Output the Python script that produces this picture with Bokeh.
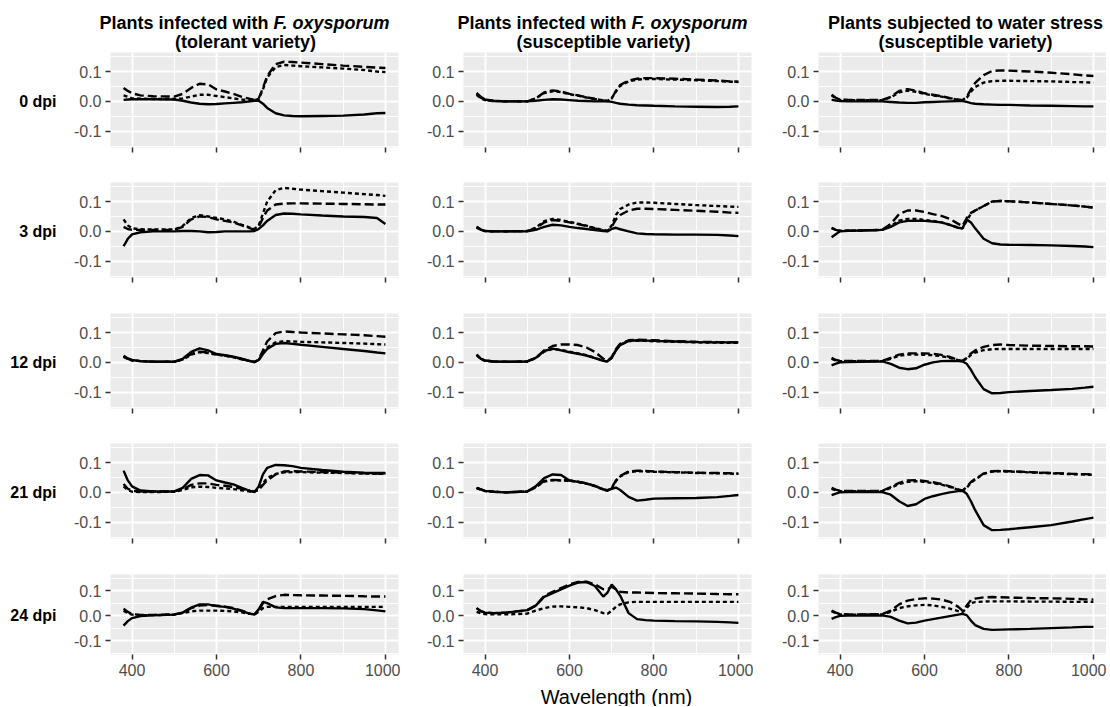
from bokeh.plotting import figure
from bokeh.layouts import column, row
from bokeh.models import FixedTicker, NumeralTickFormatter, CustomJSTickFormatter
from bokeh.core.properties import value
from bokeh.embed import file_html
from bokeh.resources import INLINE

# ---------------- data ----------------
WL = [380, 390, 400, 420, 450, 500, 520, 540, 560, 580, 600, 620, 640, 660, 680, 690,
      700, 710, 720, 740, 760, 780, 800, 850, 900, 950, 980, 1000]

# tolerant variety, F. oxysporum
tol0_solid = [.005, .006, .007, .007, .007, .006, .002, -.004, -.008, -.010, -.009, -.007, -.005, -.003, .000, .002, .002, -.008, -.022, -.040, -.047, -.049, -.050, -.049, -.048, -.044, -.040, -.039]
tol0_dash = [.045, .035, .027, .020, .017, .016, .025, .045, .059, .057, .040, .033, .025, .015, .008, .005, .010, .045, .085, .125, .133, .132, .130, .125, .120, .116, .113, .112]
tol0_dot = [.020, .015, .010, .009, .008, .008, .010, .016, .022, .022, .018, .014, .010, .006, .004, .004, .008, .040, .080, .115, .122, .120, .118, .114, .110, .105, .100, .098]
tol3_solid = [-.050, -.025, -.010, -.003, .000, .000, .001, .001, .000, -.003, -.002, .000, .000, .000, .000, .001, .008, .020, .035, .055, .060, .059, .057, .053, .050, .048, .045, .025]
tol3_dash = [.015, .008, .005, .005, .005, .005, .015, .040, .050, .048, .040, .035, .030, .020, .010, .006, .015, .045, .070, .090, .093, .094, .094, .093, .092, .091, .090, .090]
tol3_dot = [.040, .020, .010, .007, .006, .006, .018, .045, .054, .050, .045, .040, .033, .022, .012, .008, .020, .060, .100, .138, .146, .143, .140, .135, .130, .125, .122, .119]
tol12_solid = [.022, .013, .008, .004, .002, .002, .012, .035, .047, .040, .028, .024, .019, .012, .004, .001, .008, .028, .045, .062, .065, .062, .059, .052, .045, .038, .033, .030]
tol12_dash = [.020, .012, .007, .004, .002, .002, .010, .028, .036, .033, .027, .023, .018, .011, .004, .001, .010, .040, .070, .098, .104, .102, .100, .097, .094, .091, .088, .086]
tol12_dot = [.018, .011, .006, .004, .002, .002, .009, .026, .034, .031, .026, .022, .017, .010, .004, .001, .008, .030, .050, .067, .071, .070, .069, .067, .065, .063, .061, .060]
tol21_solid = [.073, .040, .020, .006, .003, .003, .015, .045, .058, .057, .040, .033, .027, .015, .004, .001, .020, .060, .082, .092, .091, .088, .082, .075, .069, .066, .065, .065]
tol21_dash = [.028, .012, .005, .003, .003, .003, .010, .025, .030, .030, .025, .022, .018, .012, .005, .003, .008, .025, .040, .060, .070, .071, .070, .068, .066, .064, .063, .062]
tol21_dot = [.020, .008, .002, .001, .001, .002, .008, .017, .019, .018, .015, .013, .011, .007, .003, .002, .010, .030, .048, .062, .067, .068, .068, .066, .065, .063, .062, .062]
tol24_solid = [-.040, -.022, -.010, -.002, .001, .004, .012, .032, .045, .045, .038, .035, .028, .018, .007, .005, .025, .055, .050, .033, .030, .030, .030, .030, .029, .026, .021, .017]
tol24_dash = [.028, .015, .006, .003, .003, .005, .012, .030, .040, .042, .040, .036, .030, .020, .008, .005, .020, .050, .065, .078, .083, .082, .081, .080, .079, .077, .076, .076]
tol24_dot = [.020, .010, .004, .002, .002, .004, .010, .017, .020, .020, .020, .019, .017, .013, .007, .005, .015, .030, .035, .035, .035, .035, .035, .035, .035, .035, .035, .035]

# susceptible variety, F. oxysporum
sus0_solid = [.028, .015, .006, .002, .000, .000, .002, .005, .007, .006, .004, .002, .001, .000, .000, .000, -.002, -.005, -.008, -.011, -.013, -.014, -.015, -.017, -.018, -.019, -.018, -.017]
sus0_dash = [.025, .012, .005, .001, .000, .000, .010, .030, .037, .033, .025, .020, .014, .008, .003, .001, .010, .035, .055, .070, .076, .078, .078, .076, .073, .070, .067, .066]
sus0_dot = [.022, .010, .004, .001, .000, .000, .010, .028, .034, .031, .024, .019, .013, .008, .003, .001, .010, .033, .052, .067, .073, .075, .075, .073, .071, .068, .066, .065]
sus3_solid = [.015, .006, .001, .000, .000, .000, .005, .015, .022, .020, .015, .011, .008, .004, .001, .000, .008, .012, .007, .000, -.007, -.009, -.010, -.011, -.011, -.012, -.014, -.016]
sus3_dash = [.015, .006, .001, .000, .000, .001, .010, .030, .038, .035, .030, .024, .018, .010, .003, .001, .015, .040, .055, .070, .076, .076, .075, .072, .069, .066, .063, .062]
sus3_dot = [.012, .005, .001, .000, .000, .001, .012, .034, .042, .038, .032, .026, .019, .011, .004, .002, .020, .055, .075, .090, .097, .097, .096, .092, .088, .085, .083, .082]
sus12_solid = [.026, .012, .006, .003, .002, .003, .015, .038, .046, .040, .034, .029, .023, .014, .005, .003, .015, .040, .058, .072, .074, .073, .072, .070, .068, .067, .067, .067]
sus12_dash = [.026, .012, .006, .003, .002, .003, .015, .040, .055, .060, .060, .058, .050, .035, .012, .005, .018, .045, .062, .074, .076, .075, .074, .071, .069, .068, .068, .067]
sus12_dot = [.024, .011, .005, .003, .002, .003, .014, .036, .045, .042, .036, .030, .024, .015, .006, .003, .015, .042, .060, .071, .073, .072, .071, .069, .067, .066, .066, .066]
sus21_solid = [.015, .010, .005, .002, .000, .003, .020, .048, .060, .058, .040, .035, .030, .022, .010, .007, .012, .016, .008, -.015, -.028, -.025, -.021, -.020, -.019, -.016, -.012, -.009]
sus21_dash = [.015, .010, .005, .002, .000, .003, .018, .038, .042, .041, .040, .036, .030, .022, .010, .006, .015, .040, .055, .070, .073, .072, .070, .068, .066, .065, .064, .063]
sus21_dot = [.014, .009, .004, .002, .000, .003, .017, .036, .041, .040, .039, .035, .029, .021, .009, .006, .014, .038, .053, .068, .071, .070, .069, .067, .065, .064, .063, .062]
sus24_solid = [.030, .018, .012, .010, .012, .022, .040, .075, .090, .105, .120, .132, .134, .118, .076, .092, .124, .105, .080, .010, -.014, -.018, -.020, -.022, -.023, -.025, -.027, -.029]
sus24_dash = [.030, .018, .012, .010, .012, .022, .040, .078, .095, .110, .125, .134, .135, .125, .105, .105, .115, .105, .095, .092, .092, .091, .090, .089, .088, .086, .085, .085]
sus24_dot = [.015, .010, .006, .005, .005, .008, .020, .030, .036, .037, .035, .033, .030, .022, .010, .007, .020, .035, .045, .053, .055, .055, .055, .055, .055, .055, .055, .055]

# susceptible variety, water stress
wat0_solid = [.005, .003, .001, .000, .000, .000, -.002, -.004, -.005, -.005, -.003, -.002, -.001, .000, .001, .001, -.002, -.006, -.008, -.010, -.011, -.012, -.012, -.014, -.015, -.016, -.017, -.017]
wat0_dash = [.022, .012, .006, .005, .005, .005, .015, .035, .041, .036, .027, .022, .017, .011, .006, .004, .015, .040, .062, .088, .102, .104, .103, .100, .096, .091, .087, .085]
wat0_dot = [.020, .010, .005, .004, .004, .004, .013, .030, .036, .032, .025, .020, .016, .010, .005, .003, .012, .032, .048, .063, .068, .069, .069, .068, .067, .065, .064, .063]
wat3_solid = [-.020, -.010, .000, .002, .003, .005, .015, .030, .035, .036, .035, .033, .030, .022, .012, .010, .040, .030, .010, -.025, -.040, -.044, -.045, -.046, -.047, -.049, -.051, -.053]
wat3_dash = [.010, .005, .001, .002, .003, .005, .025, .058, .070, .070, .065, .058, .052, .042, .025, .018, .045, .062, .070, .085, .100, .102, .101, .097, .092, .087, .083, .080]
wat3_dot = [.012, .006, .002, .002, .003, .005, .018, .036, .042, .042, .038, .035, .030, .022, .012, .010, .035, .060, .070, .085, .100, .102, .101, .097, .092, .087, .083, .080]
wat12_solid = [-.010, -.004, .000, .001, .002, .003, -.005, -.018, -.023, -.020, -.008, .000, .004, .005, .004, .003, -.005, -.025, -.050, -.090, -.104, -.103, -.100, -.096, -.093, -.089, -.085, -.082]
wat12_dash = [.015, .008, .005, .005, .005, .005, .015, .026, .030, .030, .030, .029, .025, .018, .008, .005, .015, .030, .040, .052, .058, .060, .058, .056, .055, .054, .054, .053]
wat12_dot = [.012, .006, .004, .004, .004, .004, .012, .022, .026, .026, .025, .024, .021, .015, .007, .005, .012, .025, .033, .041, .044, .045, .045, .045, .045, .045, .045, .045]
wat21_solid = [-.009, -.004, .000, .001, .001, .001, -.008, -.030, -.046, -.040, -.022, -.013, -.006, .000, .004, .005, -.005, -.030, -.060, -.110, -.127, -.126, -.124, -.117, -.110, -.098, -.090, -.085]
wat21_dash = [.015, .009, .005, .005, .005, .005, .018, .032, .040, .041, .038, .034, .028, .020, .010, .006, .018, .035, .045, .063, .071, .072, .071, .068, .065, .062, .061, .060]
wat21_dot = [.012, .007, .004, .004, .004, .004, .015, .028, .035, .037, .035, .031, .026, .018, .009, .005, .015, .032, .043, .062, .070, .071, .070, .067, .064, .061, .060, .059]
wat24_solid = [-.013, -.006, -.001, .000, .000, .001, -.005, -.020, -.031, -.028, -.020, -.014, -.008, -.002, .004, .007, .002, -.020, -.038, -.053, -.057, -.056, -.055, -.053, -.050, -.047, -.045, -.045]
wat24_dash = [.020, .012, .006, .005, .005, .006, .020, .045, .060, .066, .069, .068, .064, .055, .035, .020, .040, .062, .068, .073, .074, .073, .072, .070, .069, .067, .065, .064]
wat24_dot = [.018, .010, .005, .004, .004, .005, .015, .030, .037, .041, .043, .041, .035, .028, .018, .014, .030, .050, .054, .056, .057, .057, .057, .056, .056, .055, .055, .055]

row_labels = ["0 dpi", "3 dpi", "12 dpi", "21 dpi", "24 dpi"]
title_main = ["Plants infected with", "Plants infected with", "Plants subjected to water stress"]
title_ital = ["F. oxysporum", "F. oxysporum", ""]
title_sub = ["(tolerant variety)", "(susceptible variety)", "(susceptible variety)"]
x_ticks = [400, 600, 800, 1000]
x_minor = [500, 700, 900]
y_ticks = [-0.1, 0.0, 0.1]
y_minor = [-0.15, -0.05, 0.05, 0.15]
x_title = "Wavelength (nm)"

panels = [
    [(tol0_solid, tol0_dash, tol0_dot), (sus0_solid, sus0_dash, sus0_dot), (wat0_solid, wat0_dash, wat0_dot)],
    [(tol3_solid, tol3_dash, tol3_dot), (sus3_solid, sus3_dash, sus3_dot), (wat3_solid, wat3_dash, wat3_dot)],
    [(tol12_solid, tol12_dash, tol12_dot), (sus12_solid, sus12_dash, sus12_dot), (wat12_solid, wat12_dash, wat12_dot)],
    [(tol21_solid, tol21_dash, tol21_dot), (sus21_solid, sus21_dash, sus21_dot), (wat21_solid, wat21_dash, wat21_dot)],
    [(tol24_solid, tol24_dash, tol24_dot), (sus24_solid, sus24_dash, sus24_dot), (wat24_solid, wat24_dash, wat24_dot)],
]

# ---------------- layout ----------------
FONT = "Liberation Sans"
X0, X1 = 349, 1031
Y0, Y1 = -0.155, 0.164
FW = 288
TOP_H = 52
STRIP_W = 66
row_fh = [95, 95, 95, 95, 80]
row_top = [0, 10, 10, 10, 10]
row_bot = [25, 26, 25, 26, 28]
col_left = [110 - STRIP_W, 63, 65]
col_right = [2, 2, 0]
TOTAL_W = STRIP_W + sum(col_left) + 3 * FW + sum(col_right)
GRID_H = sum(row_fh) + sum(row_top) + sum(row_bot)
BOT_H = 24
BASE_SHIFT = 5  # glyph alphabetic baseline correction


def text_fig(w, h, y_top):
    t = figure(width=w, height=h, x_range=(0, w), y_range=(y_top + h, y_top),
               output_backend="svg", toolbar_location=None, min_border=0,
               x_axis_location=None, y_axis_location=None)
    t.outline_line_color = None
    t.background_fill_color = "white"
    t.border_fill_color = "white"
    t.xgrid.visible = False
    t.ygrid.visible = False
    return t


# column titles
top = text_fig(TOTAL_W, TOP_H, 0)
title_cx = [245, 603, 965]
y1 = 27.5 - BASE_SHIFT
y2 = 46.5 - BASE_SHIFT
for c in range(3):
    cx = title_cx[c]
    if title_ital[c]:
        junction = cx + 23
        top.text(x=[junction], y=[y1], text=[title_main[c]], text_align="right",
                 text_baseline="alphabetic", text_font=value(FONT), text_font_style="bold",
                 text_font_size="18px", text_color="black")
        top.text(x=[junction + 5], y=[y1], text=[title_ital[c]], text_align="left",
                 text_baseline="alphabetic", text_font=value(FONT), text_font_style="bold italic",
                 text_font_size="18px", text_color="black")
    else:
        top.text(x=[cx], y=[y1], text=[title_main[c]], text_align="center",
                 text_baseline="alphabetic", text_font=value(FONT), text_font_style="bold",
                 text_font_size="18px", text_color="black")
    top.text(x=[cx], y=[y2], text=[title_sub[c]], text_align="center",
             text_baseline="alphabetic", text_font=value(FONT), text_font_style="bold",
             text_font_size="18px", text_color="black")

# row labels strip
strip = text_fig(STRIP_W, GRID_H, TOP_H)
ycur = TOP_H
label_y = []
for r in range(5):
    ycur += row_top[r]
    label_y.append(ycur + row_fh[r] * Y1 / (Y1 - Y0))
    ycur += row_fh[r] + row_bot[r]
strip.text(x=[56] * 5, y=label_y, text=row_labels, text_align="right",
           text_baseline="middle", text_font=value(FONT), text_font_style="bold",
           text_font_size="16px", text_color="black")

# panels
rows = []
for r in range(5):
    figs = []
    fh = row_fh[r]
    for c in range(3):
        p = figure(frame_width=FW, frame_height=fh, x_range=(X0, X1), y_range=(Y0, Y1),
                   output_backend="svg", toolbar_location=None,
                   min_border_left=col_left[c], min_border_right=col_right[c],
                   min_border_top=row_top[r], min_border_bottom=row_bot[r])
        p.background_fill_color = "#EBEBEB"
        p.border_fill_color = "white"
        p.outline_line_color = None
        for g in (p.xgrid[0], p.ygrid[0]):
            g.grid_line_color = "white"
            g.grid_line_width = 1.8
            g.minor_grid_line_color = "white"
            g.minor_grid_line_width = 0.9
        p.xaxis.ticker = FixedTicker(ticks=x_ticks, minor_ticks=x_minor)
        p.yaxis.ticker = FixedTicker(ticks=y_ticks, minor_ticks=y_minor)
        p.yaxis.formatter = NumeralTickFormatter(format="0.0")
        for ax in (p.xaxis[0], p.yaxis[0]):
            ax.axis_line_color = None
            ax.major_tick_line_color = "#333333"
            ax.major_tick_line_width = 1.5
            ax.major_tick_out = 5
            ax.major_tick_in = 0
            ax.minor_tick_line_color = None
            ax.major_label_text_font = FONT
            ax.major_label_text_font_size = "16px"
            ax.major_label_text_color = "#4D4D4D"
            ax.major_label_standoff = 4
        if r < 4:
            p.xaxis.formatter = CustomJSTickFormatter(code="return ''")
            p.xaxis.major_label_standoff = 0

        solid, dash, dot = panels[r][c]
        p.line(WL, dot, line_color="black", line_width=2.4, line_dash="4 3")
        p.line(WL, dash, line_color="black", line_width=2.4, line_dash="9 4")
        p.line(WL, solid, line_color="black", line_width=2.4)
        figs.append(p)
    rows.append(row(*figs))

bottom = text_fig(TOTAL_W, BOT_H, TOP_H + GRID_H)
bottom.text(x=[616], y=[TOP_H + GRID_H + 19 - BASE_SHIFT], text=[x_title], text_align="center",
            text_baseline="alphabetic", text_font=value(FONT), text_font_size="20px",
            text_color="black")

layout = column(top, row(strip, column(*rows)), bottom)
open("out.html", "w").write(file_html(layout, INLINE))
